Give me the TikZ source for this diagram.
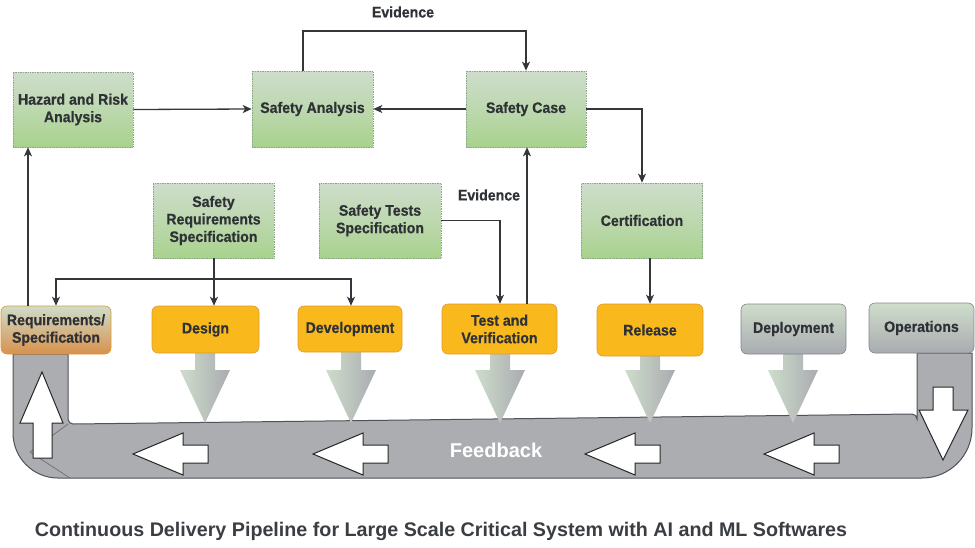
\documentclass[tikz,border=0pt]{standalone}
\usepackage{fontspec}
\setmainfont{Liberation Sans}
\newfontfamily\boxff[FakeStretch=0.93,BoldFeatures={FakeBold=0.6}]{Liberation Sans}
\usetikzlibrary{arrows.meta,calc}
\definecolor{txt}{HTML}{2E3135}
\definecolor{captxt}{HTML}{3A3D42}
\definecolor{gtop}{HTML}{CEDDCB}
\definecolor{gbot}{HTML}{A8D28D}
\definecolor{gedge}{HTML}{8AA58A}
\definecolor{amber}{HTML}{F9B81B}
\definecolor{amberedge}{HTML}{E39A2E}
\definecolor{reqbot}{HTML}{D8914B}
\definecolor{graybot}{HTML}{A9ABB0}
\definecolor{band}{HTML}{ABADB1}
\definecolor{bandedge}{HTML}{4E5258}
\definecolor{line}{HTML}{33363A}
\begin{document}
\begin{tikzpicture}[x=1pt,y=-1pt,
  boxfont/.style={font=\boxff\bfseries\fontsize{15.2}{17.5}\selectfont},
  greenbox/.style={rectangle, top color=gtop, bottom color=gbot, middle color=gtop!55!gbot, draw=gedge, densely dotted, line width=0.7pt, text=txt, boxfont, align=center, inner sep=0pt},
  ambbox/.style={rectangle, rounded corners=6pt, fill=amber, draw=amberedge, line width=0.6pt, text=txt, boxfont, align=center, inner sep=0pt},
  reqbox/.style={rectangle, rounded corners=6pt, top color=gtop, bottom color=reqbot, draw=amberedge, line width=0.6pt, text=txt, boxfont, align=center, inner sep=0pt},
  graybox/.style={rectangle, rounded corners=6pt, top color=gtop, bottom color=graybot, draw=bandedge!70, line width=0.6pt, text=txt, boxfont, align=center, inner sep=0pt},
  conn/.style={draw=line, line width=1.3pt, -{Stealth[length=9pt,width=8pt,inset=2.5pt]}},
  lbl/.style={text=txt, boxfont, inner sep=0pt},
  whitearrow/.style={fill=white, draw=black!85, line width=1pt, line join=miter},
  downarrow/.style={left color=gtop, right color=graybot, draw=none},
]
\useasboundingbox (0,0) rectangle (975,547);

% feedback band
\draw[fill=band, draw=bandedge, line width=1pt]
  (13,354) -- (13,433) arc(180:90:45) -- (922,478) arc(90:0:50)
  -- (972,353) -- (917,353) -- (917,419) arc(0:-90:5) -- (73,424) arc(90:180:5) -- (68,354) -- cycle;
\draw[bandedge!80, line width=0.8pt] (68,424) -- (30,452) -- (70,478);

% gradient down arrows
\foreach \cx in {205,351,500,650,793}{
  \shade[downarrow] (\cx-10,350) -- (\cx+10,350) -- (\cx+10,370) -- (\cx+25,370) -- (\cx,423) -- (\cx-25,370) -- (\cx-10,370) -- cycle;
}

% white arrows in band
\foreach \tx in {133,313,585,764}{
  \draw[whitearrow] (\tx,454) -- (\tx+50,433) -- (\tx+50,445) -- (\tx+75,445) -- (\tx+75,463) -- (\tx+50,463) -- (\tx+50,475) -- cycle;
}
\draw[whitearrow] (42,372) -- (63,423) -- (52,423) -- (52,458) -- (33,458) -- (33,423) -- (20,423) -- cycle;
\draw[whitearrow] (943,460) -- (968,410) -- (953,410) -- (953,387) -- (933,387) -- (933,410) -- (919,410) -- cycle;

\node[text=white, font=\bfseries\fontsize{20}{24}\selectfont] (fb) at (496,450) {Feedback};

% top row
\node[greenbox, minimum width=120pt, minimum height=75pt] (haz) at (73,109.5) {Hazard and Risk\\Analysis};
\node[greenbox, minimum width=121pt, minimum height=76pt] (sa) at (312.5,109) {Safety Analysis};
\node[greenbox, minimum width=120pt, minimum height=76pt] (sc) at (526,109) {Safety Case};

% middle row
\node[greenbox, minimum width=121pt, minimum height=75pt] (srs) at (213.5,220.5) {Safety\\Requirements\\Specification};
\node[greenbox, minimum width=122pt, minimum height=75pt] (sts) at (380,220.5) {Safety Tests\\Specification};
\node[greenbox, minimum width=121pt, minimum height=75pt] (cert) at (642,220.5) {Certification};

% bottom row
\node[reqbox, minimum width=110pt, minimum height=48pt] (req) at (56,330) {Requirements/\\Specification};
\node[ambbox, minimum width=107pt, minimum height=47pt] (des) at (205.5,329.5) {Design};
\node[ambbox, minimum width=104pt, minimum height=46pt] (dev) at (350,329) {Development};
\node[ambbox, minimum width=115pt, minimum height=50pt] (tv) at (499.5,329) {Test and\\Verification};
\node[ambbox, minimum width=106pt, minimum height=52pt] (rel) at (650,330) {Release};
\node[graybox, minimum width=105pt, minimum height=50pt] (dep) at (793.5,329) {Deployment};
\node[graybox, minimum width=105pt, minimum height=50pt] (ops) at (921.5,328) {Operations};

% connectors
\draw[conn] (28,0 |- req.north) -- (28,0 |- haz.south);
\draw[conn] (haz.east) -- (sa.west);
\draw[conn] (sc.west) -- (sa.east);
\draw[conn] (303,0 |- sa.north) -- (303,31) -| (sc.north);
\node[lbl] (ev1) at (403,12) {Evidence};
\draw[conn] (sc.east) -| (cert.north);
\draw[conn] (rel.north |- cert.south) -- (rel.north);
\draw[conn] (214,0 |- srs.south) -- (214,0 |- des.north);
\coordinate (br) at (214,279);
\draw[conn] (br) -| (56,0 |- req.north);
\draw[conn] (br) -| (351,0 |- dev.north);
\draw[conn] (sts.east) -| (500,0 |- tv.north);
\draw[conn] (527,0 |- tv.north) -- (527,0 |- sc.south);
\node[lbl] (ev2) at (489,195) {Evidence};

% caption
\node[text=captxt, font=\bfseries\fontsize{19.7}{24}\selectfont, inner sep=0pt] (cap) at (441,531) {Continuous Delivery Pipeline for Large Scale Critical System with AI and ML Softwares};
\end{tikzpicture}
\end{document}
